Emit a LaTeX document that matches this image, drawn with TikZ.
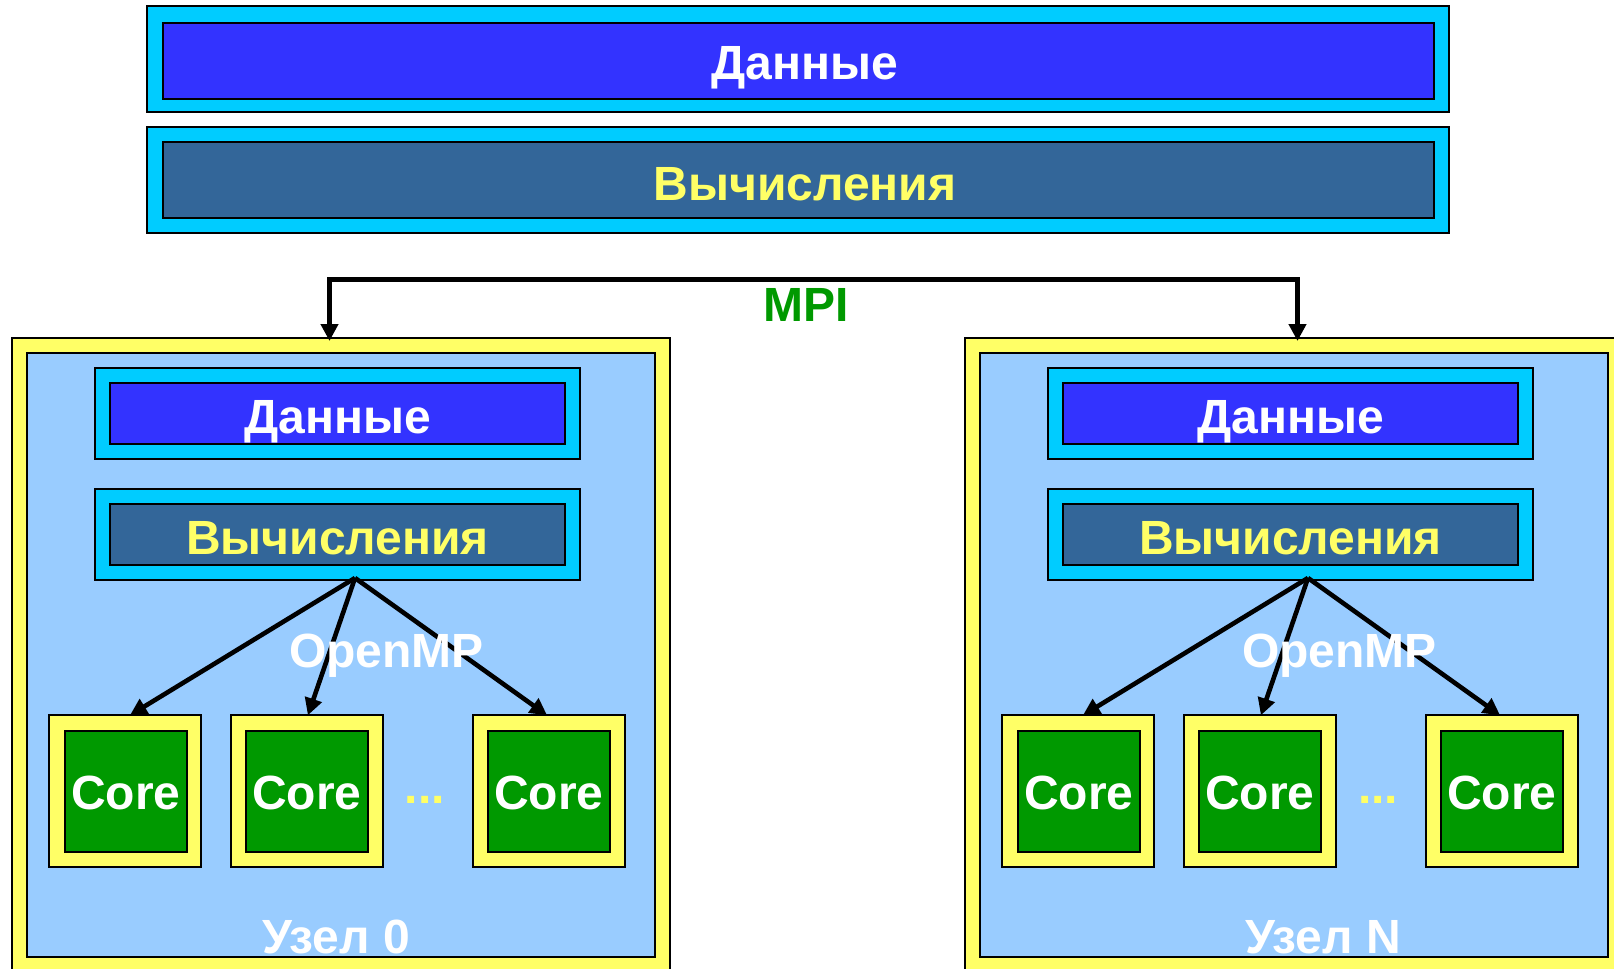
\documentclass[tikz,border=0pt]{standalone}
\usepackage{fontspec}
\setmainfont{Liberation Sans}
\usetikzlibrary{arrows.meta,fit}
\definecolor{cyanbox}{HTML}{00CCFF}
\definecolor{bluebox}{HTML}{3333FF}
\definecolor{steelbox}{HTML}{336699}
\definecolor{yel}{HTML}{FFFF66}
\definecolor{lblue}{HTML}{99CCFF}
\definecolor{grn}{HTML}{009900}

\newcommand\clustergroup[3]{% #1 x shift (px), #2 suffix, #3 label x
  \node[fit={({12+#1},338) ({670+#1},975)}, frame, fill=yel] (n#2) {};
  \node[fit={({27+#1},353) ({655+#1},957)}, frame, fill=lblue] (nb#2) {};
  \node[fit={({95+#1},368) ({580+#1},459)}, frame, fill=cyanbox] (dao#2) {};
  \node[fit={({110+#1},383) ({565+#1},444)}, frame, fill=bluebox] (dai#2) {};
  \node[fit={({95+#1},489) ({580+#1},580)}, frame, fill=cyanbox] (vyo#2) {};
  \node[fit={({110+#1},504) ({565+#1},565)}, frame, fill=steelbox] (vyi#2) {};
  \node[wtxt] (datxt#2) at ({337.5+#1},433) {Данные};
  \node[ytxt] (vytxt#2) at ({337.5+#1},554) {Вычисления};
  % cores
  \node[fit={({49.3+#1},715.3) ({201.3+#1},866.7)}, frame, fill=yel] (ca#2) {};
  \node[fit={({64.7+#1},730.7) ({186.7+#1},852)}, frame, fill=grn] (cai#2) {};
  \node[fit={({230.7+#1},715.3) ({382.7+#1},866.7)}, frame, fill=yel] (cb#2) {};
  \node[fit={({246+#1},730.7) ({368+#1},852)}, frame, fill=grn] (cbi#2) {};
  \node[fit={({472.7+#1},715.3) ({624.7+#1},866.7)}, frame, fill=yel] (cc#2) {};
  \node[fit={({488+#1},730.7) ({610+#1},852)}, frame, fill=grn] (cci#2) {};
  \node[wtxt] (catxt#2) at ({125.7+#1},809) {Core};
  \node[wtxt] (cbtxt#2) at ({307+#1},809) {Core};
  \node[wtxt] (cctxt#2) at ({549+#1},809) {Core};
  \node[ytxt] (dots#2) at ({425+#1},803) {...};
  % OpenMP arrows
  \coordinate (o#2) at ({355+#1},578);
  \draw[conn] (o#2) -- ([xshift=2.3pt]ca#2.north);
  \draw[conn] (o#2) -- ([xshift=0.6pt]cb#2.north);
  \draw[conn] (o#2) -- ([xshift=-0.8pt]cc#2.north);
  \node[wtxt] (omp#2) at ({386.5+#1},667) {OpenMP};
}

\begin{document}
\begin{tikzpicture}[x=0.5pt,y=-0.5pt,
  frame/.style={draw=black,line width=1pt,inner sep=0pt,outer sep=0pt},
  wtxt/.style={anchor=base,inner sep=0pt,text=white,font=\bfseries\fontsize{24}{28}\selectfont},
  ytxt/.style={wtxt,text=yel},
  gtxt/.style={wtxt,text=grn},
  conn/.style={line width=2.3pt,line join=miter,-{Triangle[length=8.5pt,width=8.5pt]}}]
\useasboundingbox (0,0) rectangle (1614,969);

% top blocks
\node[fit={(147,6) (1449,112)}, frame, fill=cyanbox] (tdo) {};
\node[fit={(163,23) (1434,99)}, frame, fill=bluebox] (tdi) {};
\node[wtxt] (tdtxt) at (805,79) {Данные};
\node[fit={(147,127) (1449,233)}, frame, fill=cyanbox] (tvo) {};
\node[fit={(163,142) (1434,218)}, frame, fill=steelbox] (tvi) {};
\node[ytxt] (tvtxt) at (805,200) {Вычисления};

\clustergroup{0}{0}{0}
\clustergroup{953}{N}{0}

\node[wtxt] (lbl0) at (336,953) {Узел 0};
\node[wtxt] (lblN) at (1323,953) {Узел N};

% MPI connector
\coordinate (m0) at (329.5,341);
\coordinate (mN) at (1297.5,341);
\coordinate (mbar) at (806,279);
\draw[line width=2.5pt,line join=miter,{Triangle[length=8.5pt,width=8.5pt]}-{Triangle[length=8.5pt,width=8.5pt]}] (m0) |- (mbar) -| (mN);
\node[gtxt] (mpi) at (806,321) {MPI};
\end{tikzpicture}
\end{document}
